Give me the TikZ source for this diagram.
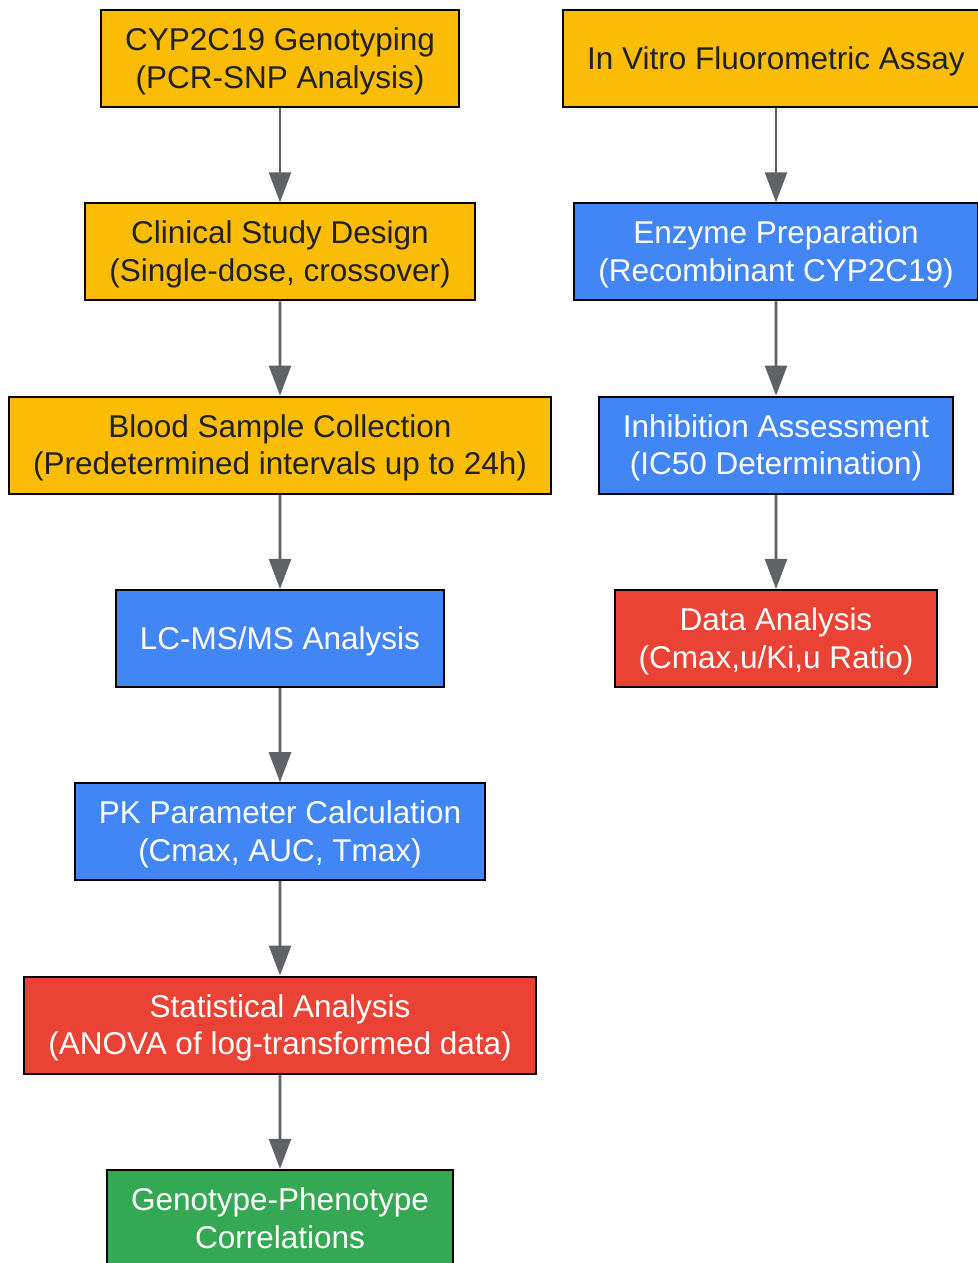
\documentclass[tikz,border=0pt]{standalone}
\usepackage{fontspec}
\setmainfont{Liberation Sans}
\usetikzlibrary{arrows.meta}
\definecolor{gyellow}{HTML}{FBBC05}
\definecolor{gblue}{HTML}{4285F4}
\definecolor{gred}{HTML}{EA4335}
\definecolor{ggreen}{HTML}{34A853}
\definecolor{gtext}{HTML}{202124}
\definecolor{garrow}{HTML}{5F6368}
\newcommand{\ls}{\rule[-8pt]{0pt}{37.8pt}}

\begin{document}
\begin{tikzpicture}[x=1pt, y=1pt, level distance=193.3pt,
										box/.style={rectangle, draw=black, line width=2pt, inner xsep=24pt,
																minimum height=97pt, align=center,
																font=\fontsize{31.5}{37.8}\selectfont},
										yel/.style={box, fill=gyellow, text=gtext},
										blu/.style={box, fill=gblue, text=white},
										rd/.style={box, fill=gred, text=white},
										grn/.style={box, fill=ggreen, text=white},
										edge from parent/.style={draw=garrow, line width=2.6pt,
																-{Triangle[length=30pt,width=22pt]}}]
	\useasboundingbox (0,0) rectangle (977,-1263);
	% clinical arm
	\node [yel] (geno) at (280,-58.5) {\ls CYP2C19 Genotyping\\(PCR-SNP Analysis)\ls}
		child {node [yel] (design) {\ls Clinical Study Design\\(Single-dose, crossover)\ls}
			child {node [yel] (blood) {\ls Blood Sample Collection\\(Predetermined intervals up to 24h)\ls}
				child {node [blu] (lcms) {\ls LC-MS/MS Analysis}
					child {node [blu] (pk) {\ls PK Parameter Calculation\\(Cmax, AUC, Tmax)\ls}
						child {node [rd] (stats) {\ls Statistical Analysis\\(ANOVA of log-transformed data)\ls}
							child {node [grn] (corr) {\ls Genotype-Phenotype\\Correlations\ls}}
						}
					}
				}
			}
		};
	% in vitro arm
	\node [yel] (assay) at (776,-58.5) {\ls In Vitro Fluorometric Assay}
		child {node [blu] (enzyme) {\ls Enzyme Preparation\\(Recombinant CYP2C19)\ls}
			child {node [blu] (inhib) {\ls Inhibition Assessment\\(IC50 Determination)\ls}
				child {node [rd] (ratio) {\ls Data Analysis\\(Cmax,u/Ki,u Ratio)\ls}}
			}
		};
\end{tikzpicture}
\end{document}
